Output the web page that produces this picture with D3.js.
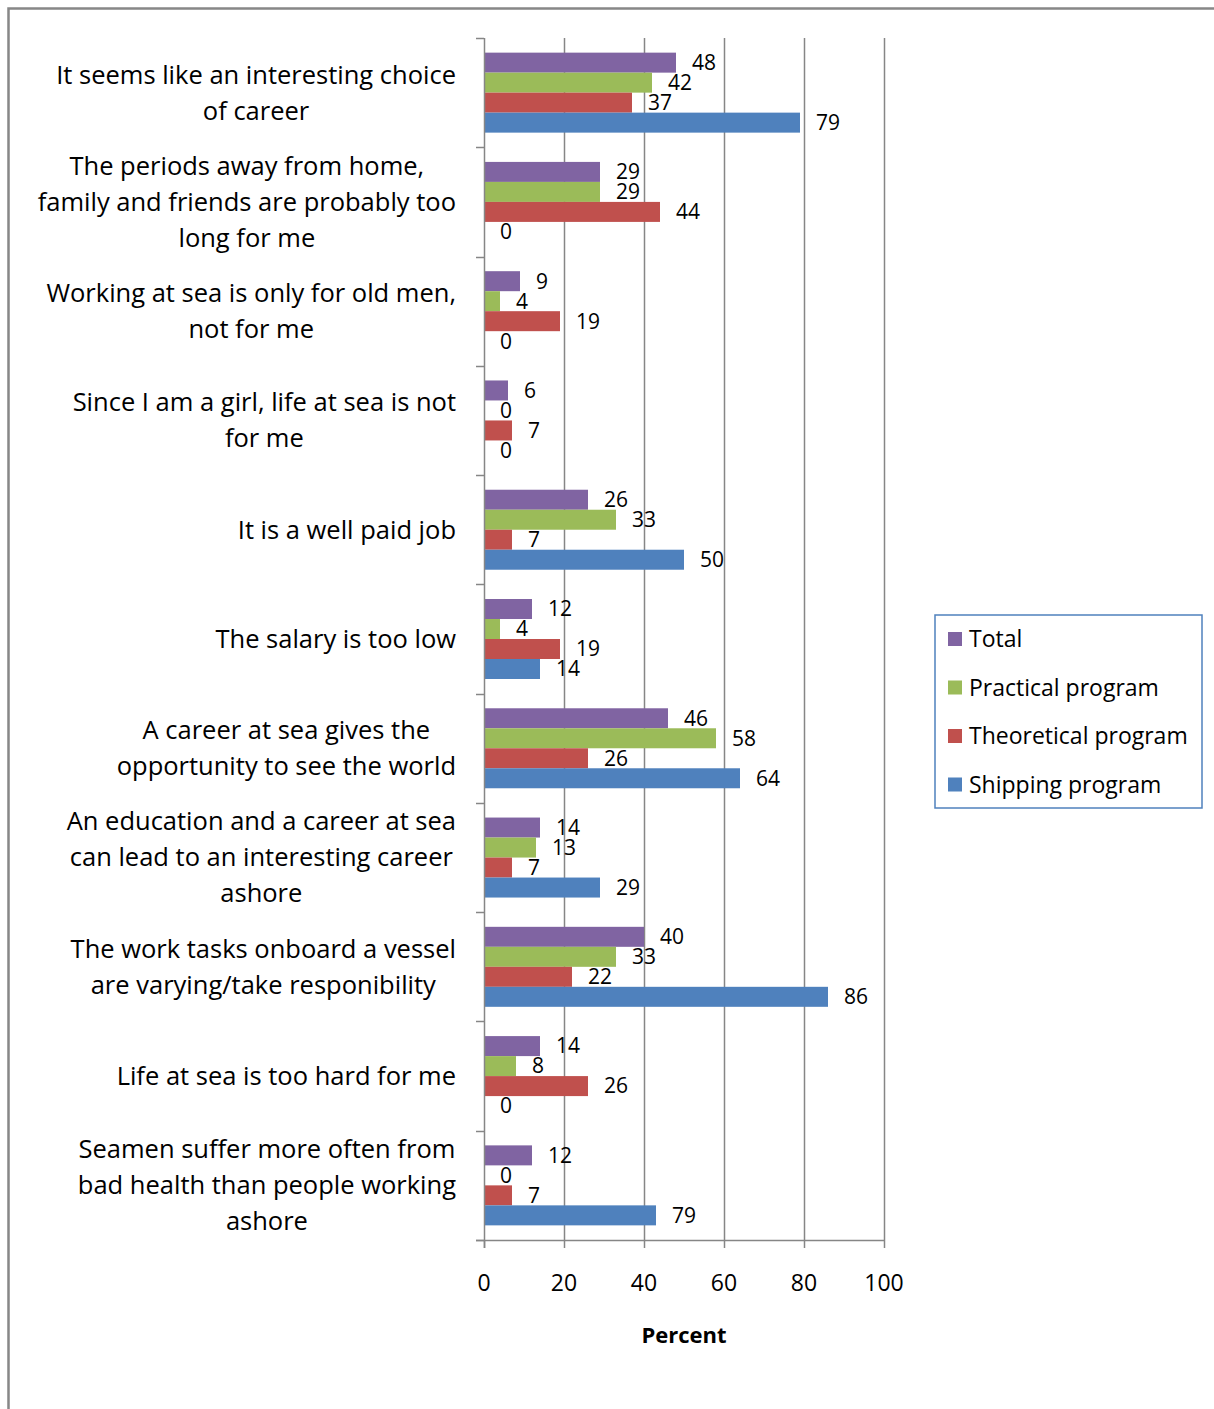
<!DOCTYPE html>
<html><head><meta charset="utf-8">
<script src="https://cdn.jsdelivr.net/npm/d3@7"></script>
<style>
html,body{margin:0;padding:0;background:#fff;}
svg{display:block;font-family:"Open Sans",sans-serif;}
</style></head>
<body>
<script>
const categories = [
  ["It seems like an interesting choice","of career"],
  ["The periods away from home,","family and friends are probably too","long for me"],
  ["Working at sea is only for old men,","not for me"],
  ["Since I am a girl, life at sea is not","for me"],
  ["It is a well paid job"],
  ["The salary is too low"],
  ["A career at sea gives the","opportunity to see the world"],
  ["An education and a career at sea","can lead to an interesting career","ashore"],
  ["The work tasks onboard a vessel","are varying/take responibility"],
  ["Life at sea is too hard for me"],
  ["Seamen suffer more often from","bad health than people working","ashore"]
];
const seriesNames = ["Total","Practical program","Theoretical program","Shipping program"];
const total       = [48,29, 9,6,26,12,46,14,40,14,12];
const practical   = [42,29, 4,0,33, 4,58,13,33, 8, 0];
const theoretical = [37,44,19,7, 7,19,26, 7,22,26, 7];
const shipping    = [79, 0, 0,0,50,14,64,29,86, 0,43];
const shippingLabels = [79,0,0,0,50,14,64,29,86,0,79];
const xTicks = [0,20,40,60,80,100];

const colors = ["#8064A2","#9BBB59","#C0504D","#4F81BD"];
const seriesVals = [total, practical, theoretical, shipping];
const seriesLabels = [total, practical, theoretical, shippingLabels];

const W = 1214, H = 1409;
const svg = d3.select("body").append("svg").attr("width", W).attr("height", H);

// outer frame (extends beyond view)
svg.append("rect").attr("x", 8.5).attr("y", 8.5).attr("width", W + 20).attr("height", H + 20)
  .attr("fill", "none").attr("stroke", "#878787").attr("stroke-width", 2.5);

const x0 = 484, x1 = 884, yTop = 38, yBot = 1240;
const x = d3.scaleLinear().domain([0, 100]).range([x0, x1]);
const y = d3.scaleBand().domain(d3.range(categories.length)).range([yTop, yBot])
  .paddingInner(0.268).paddingOuter(0.134);
const ys = d3.scaleBand().domain(d3.range(4)).range([0, y.bandwidth()]);
const gridColor = "#868686";

// gridlines
svg.append("g").selectAll("line").data(xTicks.slice(1)).join("line")
  .attr("x1", d => Math.round(x(d)) + 0.5).attr("x2", d => Math.round(x(d)) + 0.5)
  .attr("y1", yTop).attr("y2", yBot)
  .attr("stroke", gridColor).attr("stroke-width", 1.5);

// bars
const g = svg.append("g");
seriesVals.forEach((vals, s) => {
  g.selectAll(null).data(vals).join("rect")
    .attr("x", x(0)).attr("y", (d, i) => y(i) + ys(s))
    .attr("width", d => x(d) - x(0)).attr("height", ys.bandwidth())
    .attr("fill", colors[s]);
});

// axes
const axisG = svg.append("g");
axisG.append("line").attr("x1", x0 + 0.5).attr("x2", x0 + 0.5).attr("y1", yTop).attr("y2", yBot + 8)
  .attr("stroke", gridColor).attr("stroke-width", 1.5);
axisG.append("line").attr("x1", x0 - 8).attr("x2", x1 + 1).attr("y1", yBot + 0.5).attr("y2", yBot + 0.5)
  .attr("stroke", gridColor).attr("stroke-width", 1.5);
const step = y.step();
axisG.selectAll(".yt").data(d3.range(categories.length + 1)).join("line")
  .attr("x1", x0 - 8).attr("x2", x0)
  .attr("y1", i => Math.round(yTop + i * step) + 0.5).attr("y2", i => Math.round(yTop + i * step) + 0.5)
  .attr("stroke", gridColor).attr("stroke-width", 1.5);
axisG.selectAll(".xt").data(xTicks).join("line")
  .attr("x1", d => Math.round(x(d)) + 0.5).attr("x2", d => Math.round(x(d)) + 0.5)
  .attr("y1", yBot).attr("y2", yBot + 8)
  .attr("stroke", gridColor).attr("stroke-width", 1.5);
axisG.selectAll("text").data(xTicks).join("text")
  .attr("x", d => x(d)).attr("y", 1283).attr("dy", "0.35em").attr("text-anchor", "middle")
  .attr("font-size", 23).attr("fill", "#000").text(d => d);

svg.append("text").attr("x", (x0 + x1) / 2).attr("y", 1335).attr("dy", "0.35em").attr("text-anchor", "middle")
  .attr("font-size", 22).attr("font-weight", "bold").text("Percent");

// data labels
seriesLabels.forEach((vals, s) => {
  g.selectAll(null).data(vals).join("text")
    .attr("x", (d, i) => x(seriesVals[s][i]) + 16)
    .attr("y", (d, i) => y(i) + ys(s) + ys.bandwidth() / 2)
    .attr("dy", "0.35em").attr("font-size", 21).attr("fill", "#000").text(d => d);
});

// category labels
const lineH = 36;
categories.forEach((lines, i) => {
  const cy = y(i) + y.bandwidth() / 2;
  const t = svg.append("text").attr("font-size", 25.5).attr("fill", "#000").attr("text-anchor", "middle");
  lines.forEach((ln, k) => {
    t.append("tspan").attr("x", 0).attr("y", cy + (k - (lines.length - 1) / 2) * lineH).attr("dy", "0.35em").text(ln);
  });
  const wmax = d3.max(t.selectAll("tspan").nodes(), n => n.getComputedTextLength());
  t.selectAll("tspan").attr("x", 456 - wmax / 2);
});

// legend
const lg = svg.append("g");
lg.append("rect").attr("x", 935).attr("y", 615).attr("width", 267).attr("height", 193)
  .attr("fill", "#fff").attr("stroke", "#4F81BD").attr("stroke-width", 1.5);
seriesNames.forEach((n, s) => {
  const cy = 639 + s * 48.5;
  lg.append("rect").attr("x", 948).attr("y", cy - 7).attr("width", 14).attr("height", 14).attr("fill", colors[s]);
  lg.append("text").attr("x", 969).attr("y", cy).attr("dy", "0.35em").attr("font-size", 23).text(n);
});
</script>
</body></html>
